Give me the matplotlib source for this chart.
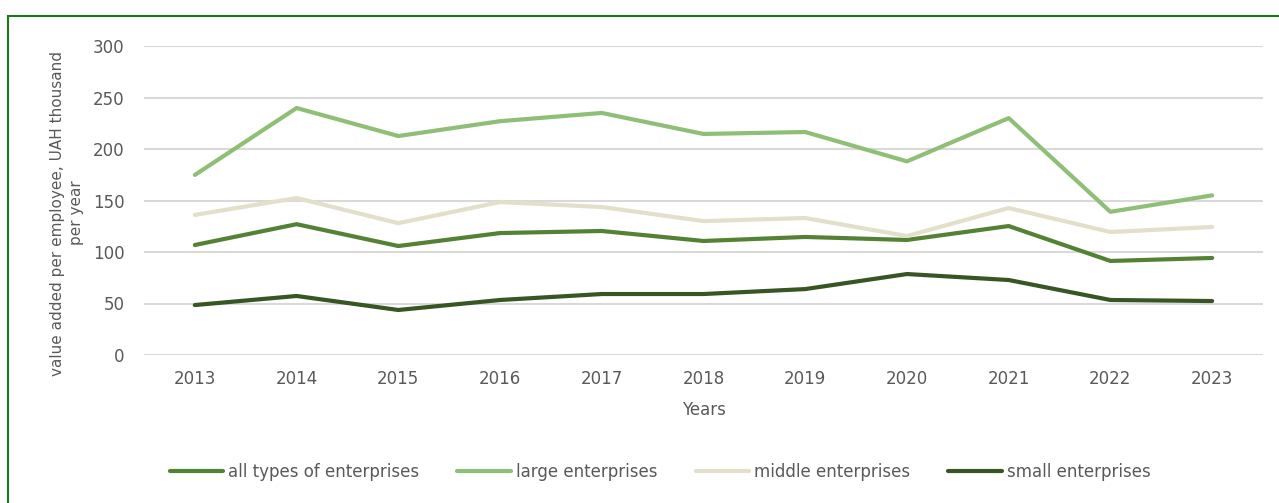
import matplotlib.pyplot as plt
from matplotlib.patches import Rectangle

years = ['2013', '2014', '2015', '2016', '2017', '2018', '2019', '2020', '2021', '2022', '2023']
all_types = [106.8, 127, 105.8, 118.4, 120.4, 110.7, 114.6, 111.7, 125.2, 91.3, 94.2]
large = [174.8, 239.8, 212.6, 227, 235, 214.6, 216.5, 188, 230, 139, 155]
middle = [136, 152.4, 128, 148.5, 143.7, 130, 133, 115.5, 142.7, 119.4, 124.3]
small = [48.5, 57.3, 43.7, 53.4, 59.2, 59.2, 64, 78.6, 72.8, 53.4, 52.4]

series = [
    ('all types of enterprises', all_types, '#548235'),
    ('large enterprises', large, '#8fbf76'),
    ('middle enterprises', middle, '#e2dfcb'),
    ('small enterprises', small, '#375623'),
]

plt.rcParams['font.family'] = ['DejaVu Sans']
text_col = '#595959'

fig = plt.figure(figsize=(12.79, 5.03), dpi=100)
ax = fig.add_axes([144 / 1279, 1 - 355 / 503, 1119 / 1279, 309 / 503])

x = list(range(len(years)))
for name, vals, col in series:
    ax.plot(x, vals, color=col, lw=3, label=name, solid_capstyle='round', zorder=3)

ax.set_xlim(-0.5, len(years) - 0.5)
ax.set_ylim(0, 300)
ax.set_yticks(range(0, 301, 50))
ax.set_xticks(x)
ax.set_xticklabels(years)
ax.grid(axis='y', color='#d9d9d9', lw=1.5, zorder=0)
for s in ax.spines.values():
    s.set_visible(False)
ax.tick_params(length=0, labelsize=12, colors=text_col)
ax.tick_params(axis='x', pad=11)
ax.tick_params(axis='y', pad=14)

ax.set_xlabel('Years', fontsize=12, color=text_col, labelpad=9)
fig.text(67 / 1279, 1 - 213 / 503, 'value added per employee, UAH thousand\nper year',
         rotation=90, ha='center', va='center', multialignment='center',
         linespacing=1.4, fontsize=11, color=text_col)

fig.legend(loc='center', bbox_to_anchor=(660 / 1279, 1 - 472 / 503), ncol=4,
           frameon=False, fontsize=12, handlelength=3.2, handletextpad=0.3,
           columnspacing=2.3, labelcolor=text_col)

fig.patches.append(Rectangle((8 / 1279, -0.1), 1.2, 1 - 16 / 503 + 0.1,
                             transform=fig.transFigure, fill=False,
                             edgecolor='#1a7a1a', lw=1.5))

fig.savefig('out.png', dpi=100)
